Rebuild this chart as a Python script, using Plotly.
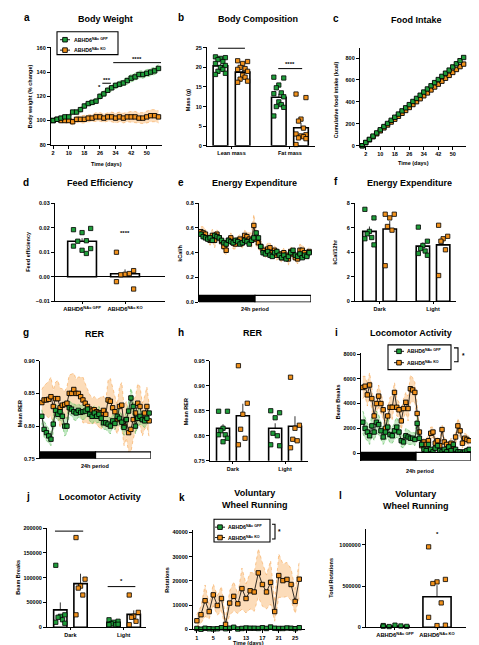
import plotly.graph_objects as go

W, H = 479, 645
FONT = "Liberation Sans"
GREEN = "#1f9e3a"
ORANGE = "#f2921c"
GREEN_FILL = "rgba(120,205,120,0.45)"
ORANGE_FILL = "rgba(250,185,115,0.5)"
GREEN_EDGE = "rgba(70,180,70,0.9)"
ORANGE_EDGE = "rgba(245,160,70,0.9)"
LBL_GFP = "ABHD6<sup>NAc GFP</sup>"
LBL_KO = "ABHD6<sup>NAc KO</sup>"

# ---------------- data ----------------
# a: body weight (% change)
bw_days = [2, 4, 6, 8, 10, 12, 14, 16, 18, 20, 22, 24, 26, 28, 30, 32, 34, 36, 38, 40, 42, 44, 46, 48, 50, 52, 54, 56]
bw_gfp = [100, 101, 102, 103, 103, 107, 107, 109, 112, 114, 115, 116, 120, 122, 125, 127, 129, 130, 131, 133, 135, 136, 138, 138, 139, 140, 141, 143]
bw_gfp_sem = [1, 1, 1, 1.5, 1.5, 1.5, 1.5, 2, 2, 2, 2, 2, 2.5, 2.5, 2.5, 2.5, 2.5, 2.5, 2.5, 3, 3, 3, 3, 3, 3, 3, 3, 3]
bw_ko = [100, 101, 100, 100, 100, 99, 101, 101, 101, 102, 102, 103, 103, 102, 103, 103, 102, 103, 102, 103, 103, 103, 102, 102, 103, 104, 104, 103]
bw_ko_sem = [1, 1.5, 2, 2, 2, 2.5, 2.5, 3, 3, 3, 3, 3.5, 3.5, 3.5, 3.5, 4, 4, 4, 4, 4, 4.5, 4.5, 4.5, 4.5, 5, 5, 5, 5]
bw_ticks = [2, 10, 18, 26, 34, 42, 50]

# b: body composition
bc_cats = ["Lean mass", "Fat mass"]
bc_gfp_mean = [20.4, 12.4]
bc_gfp_sem = [0.5, 0.9]
bc_ko_mean = [18.8, 4.6]
bc_ko_sem = [0.5, 1.2]
bc_gfp_pts = [[22.7, 22.5, 22.3, 22.0, 21.5, 21.0, 20.5, 20.0, 19.5, 19.0, 18.5, 18.2],
              [17.5, 17.3, 15.5, 14.8, 13.5, 13.3, 12.5, 11.2, 10.5, 10.0, 9.8, 7.6]]
bc_ko_pts = [[21.7, 21.5, 21.0, 20.0, 19.7, 19.5, 19.0, 18.0, 17.5, 17.0, 16.5, 16.2],
             [13.2, 12.3, 6.8, 6.3, 4.5, 3.0, 2.8, 2.5, 2.3, 2.0, 1.8, 0.3]]

# c: cumulative food intake
fi_days = [0, 2, 4, 6, 8, 10, 12, 14, 16, 18, 20, 22, 24, 26, 28, 30, 32, 34, 36, 38, 40, 42, 44, 46, 48, 50, 52, 54, 56]
fi_gfp = [0, 30, 58, 88, 117, 146, 175, 203, 232, 260, 289, 318, 346, 375, 404, 432, 461, 490, 518, 547, 576, 604, 633, 662, 690, 719, 748, 776, 805]
fi_ko = [0, 28, 54, 82, 109, 136, 163, 189, 216, 242, 269, 296, 322, 349, 376, 402, 429, 456, 482, 509, 536, 562, 589, 616, 642, 669, 696, 722, 745]

# d: feed efficiency
fe_cats = [LBL_GFP, LBL_KO]
fe_mean = [0.0145, 0.0012]
fe_sem = [0.0012, 0.0018]
fe_gfp_pts = [0.0192, 0.0197, 0.0180, 0.0145, 0.0147, 0.0125, 0.0115, 0.0108, 0.0095]
fe_ko_pts = [0.0100, 0.0025, 0.0010, 0.0008, 0.0013, -0.0020, -0.0050]

# e: energy expenditure over 24 h (30-min bins)
period_bins = list(range(48))
ee_gfp = [0.55, 0.53, 0.52, 0.51, 0.52, 0.50, 0.54, 0.53, 0.52, 0.50,
          0.48, 0.47, 0.50, 0.49, 0.48, 0.50, 0.49, 0.47, 0.48, 0.50,
          0.49, 0.47, 0.50, 0.52, 0.56, 0.52, 0.45, 0.40, 0.39, 0.41,
          0.38, 0.37, 0.40, 0.41, 0.38, 0.36, 0.38, 0.35, 0.37, 0.40,
          0.42, 0.38, 0.37, 0.39, 0.36, 0.38, 0.37, 0.40]
ee_gfp_sem = [0.02, 0.02, 0.02, 0.015, 0.02, 0.02, 0.025, 0.02, 0.02, 0.015,
              0.02, 0.02, 0.02, 0.015, 0.02, 0.02, 0.02, 0.015, 0.02, 0.02,
              0.02, 0.02, 0.02, 0.02, 0.025, 0.02, 0.02, 0.015, 0.015, 0.02,
              0.015, 0.015, 0.02, 0.02, 0.015, 0.015, 0.02, 0.015, 0.02, 0.02,
              0.02, 0.015, 0.015, 0.02, 0.015, 0.015, 0.02, 0.02]
ee_ko = [0.57, 0.56, 0.55, 0.52, 0.50, 0.54, 0.50, 0.55, 0.52, 0.49,
         0.45, 0.42, 0.50, 0.52, 0.48, 0.47, 0.50, 0.51, 0.48, 0.54,
         0.53, 0.51, 0.50, 0.62, 0.51, 0.48, 0.45, 0.42, 0.40, 0.43,
         0.44, 0.40, 0.42, 0.38, 0.39, 0.36, 0.40, 0.38, 0.35, 0.41,
         0.39, 0.36, 0.35, 0.42, 0.42, 0.40, 0.38, 0.41]
ee_ko_sem = [0.04, 0.05, 0.04, 0.03, 0.04, 0.05, 0.06, 0.04, 0.03, 0.04,
             0.05, 0.04, 0.03, 0.04, 0.05, 0.04, 0.03, 0.04, 0.05, 0.04,
             0.04, 0.05, 0.06, 0.09, 0.06, 0.05, 0.04, 0.04, 0.04, 0.05,
             0.04, 0.03, 0.04, 0.04, 0.03, 0.04, 0.04, 0.03, 0.05, 0.04,
             0.04, 0.03, 0.04, 0.05, 0.04, 0.04, 0.03, 0.04]

# f: energy expenditure per 12 h
phase_cats = ["Dark", "Light"]
ee12_gfp_mean = [5.7, 4.5]
ee12_gfp_sem = [0.4, 0.3]
ee12_ko_mean = [5.9, 4.6]
ee12_ko_sem = [0.65, 0.6]
ee12_gfp_pts = [[7.5, 6.8, 5.7, 5.5, 5.2, 5.1, 4.6], [6.05, 4.9, 4.55, 4.3, 4.1, 3.9, 3.75]]
ee12_ko_pts = [[7.1, 7.1, 6.8, 6.1, 5.8, 2.9], [6.2, 5.3, 5.1, 4.9, 4.2, 2.1]]

# g: RER over 24 h
rer_gfp = [0.815, 0.795, 0.790, 0.785, 0.780, 0.803, 0.824, 0.818, 0.822, 0.815,
           0.800, 0.800, 0.828, 0.826, 0.822, 0.820, 0.824, 0.821, 0.822, 0.823,
           0.826, 0.818, 0.815, 0.820, 0.815, 0.818, 0.812, 0.805, 0.805, 0.803,
           0.800, 0.808, 0.804, 0.815, 0.812, 0.806, 0.798, 0.810, 0.823, 0.843,
           0.830, 0.800, 0.812, 0.815, 0.810, 0.808, 0.812, 0.820]
rer_gfp_sem = [0.010, 0.012, 0.012, 0.012, 0.010, 0.012, 0.010, 0.010, 0.012, 0.012,
               0.015, 0.012, 0.010, 0.010, 0.012, 0.012, 0.010, 0.010, 0.012, 0.012,
               0.010, 0.010, 0.012, 0.012, 0.010, 0.012, 0.012, 0.010, 0.010, 0.012,
               0.012, 0.010, 0.010, 0.012, 0.012, 0.012, 0.012, 0.012, 0.014, 0.015,
               0.014, 0.012, 0.012, 0.012, 0.010, 0.010, 0.010, 0.010]
rer_ko = [0.836, 0.840, 0.840, 0.841, 0.845, 0.830, 0.842, 0.842, 0.828, 0.832,
          0.833, 0.835, 0.850, 0.850, 0.856, 0.850, 0.850, 0.845, 0.840, 0.835,
          0.830, 0.826, 0.823, 0.825, 0.822, 0.820, 0.820, 0.824, 0.818, 0.840,
          0.838, 0.828, 0.822, 0.810, 0.830, 0.832, 0.800, 0.810, 0.790, 0.795,
          0.810, 0.820, 0.835, 0.830, 0.810, 0.820, 0.830, 0.808]
rer_ko_sem = [0.020, 0.022, 0.025, 0.028, 0.030, 0.025, 0.025, 0.028, 0.030, 0.025,
              0.020, 0.025, 0.028, 0.030, 0.025, 0.022, 0.025, 0.030, 0.035, 0.030,
              0.025, 0.022, 0.020, 0.020, 0.020, 0.022, 0.025, 0.022, 0.020, 0.030,
              0.035, 0.030, 0.025, 0.022, 0.030, 0.035, 0.030, 0.028, 0.030, 0.035,
              0.030, 0.025, 0.030, 0.030, 0.025, 0.025, 0.030, 0.025]

# h: mean RER by phase
rer12_gfp_mean = [0.815, 0.815]
rer12_gfp_sem = [0.008, 0.010]
rer12_ko_mean = [0.840, 0.819]
rer12_ko_sem = [0.024, 0.020]
rer12_gfp_pts = [[0.849, 0.849, 0.815, 0.810, 0.802, 0.802, 0.795, 0.788], [0.850, 0.846, 0.836, 0.805, 0.800, 0.782, 0.780]]
rer12_ko_pts = [[0.940, 0.865, 0.843, 0.813, 0.795, 0.782], [0.917, 0.821, 0.815, 0.793, 0.790, 0.776]]

# i: locomotor activity over 24 h
loco_gfp = [2500, 2000, 1700, 1400, 2200, 1700, 2500, 2300, 1800, 1300,
            1700, 2100, 1500, 1400, 1800, 2100, 1700, 1000, 900, 1400,
            1300, 1200, 1200, 1100, 2400, 1200, 700, 300, 200, 700,
            300, 100, 400, 600, 200, 100, 300, 100, 500, 200,
            700, 300, 100, 100, 0, 100, 200, 300]
loco_gfp_sem = [900, 800, 700, 700, 800, 700, 900, 800, 700, 600,
                700, 800, 700, 600, 700, 800, 700, 500, 500, 600,
                600, 500, 500, 500, 700, 400, 300, 200, 150, 300,
                150, 100, 200, 300, 150, 100, 150, 100, 200, 150,
                300, 200, 100, 100, 50, 100, 150, 200]
loco_ko = [5300, 5400, 4700, 5500, 4400, 3000, 4000, 4600, 4000, 3500,
           2000, 3000, 3700, 3700, 4900, 3700, 3500, 2600, 3600, 4100,
           3600, 5200, 5100, 4900, 3200, 1700, 600, 900, 700, 1000,
           1600, 1700, 800, 1000, 600, 1900, 900, 700, 500, 800,
           400, 1300, 2200, 1800, 800, 1200, 1100, 1000]
loco_ko_sem = [900, 800, 900, 1000, 900, 700, 800, 900, 800, 700,
               600, 700, 800, 1000, 800, 700, 600, 700, 800, 800,
               1000, 1100, 1000, 800, 600, 400, 400, 300, 400, 500,
               500, 400, 400, 300, 500, 400, 300, 400, 300, 400,
               300, 600, 600, 500, 400, 400, 400, 400]

# j: locomotor activity by phase
lo12_gfp_mean = [35000, 10000]
lo12_gfp_sem = [15000, 2000]
lo12_ko_mean = [88000, 26000]
lo12_ko_sem = [20000, 8000]
lo12_gfp_pts = [[125000, 25000, 22000, 20000, 15000, 10000, 8000], [15000, 12000, 10000, 7000, 5000, 5000, 6000]]
lo12_ko_pts = [[181000, 97000, 83000, 79000, 65000, 25000], [65000, 30000, 22000, 20000, 12000, 5000]]

# k: voluntary wheel running
wr_days = list(range(1, 27))
wr_gfp = [300, 0, 400, 200, 100, 200, 600, 200, 400, 800, 100, 300, 500, 400, 400, 300, 600, 300, 900, 400, 300, 300, 500, 400, 200, 600]
wr_gfp_sem = [200, 100, 200, 150, 100, 150, 300, 150, 200, 300, 100, 200, 250, 200, 200, 200, 300, 200, 400, 200, 200, 200, 250, 200, 150, 300]
wr_ko = [3500, 6000, 11800, 7300, 14200, 9800, 12700, 2000, 10800, 13600, 10500, 16800, 12700, 15900, 15400, 23300, 18500, 15400, 19400, 7300, 22200, 20100, 20600, 18500, 11500, 20700]
wr_ko_sem = [2500, 3500, 6500, 3000, 4500, 4000, 5000, 2000, 5000, 6000, 4000, 8500, 6000, 7500, 8000, 10000, 9000, 7000, 9000, 4000, 9000, 7000, 7000, 6500, 5000, 7500]
wr_ticks = [1, 5, 9, 13, 17, 21, 25]

# l: total rotations
tr_cats = [LBL_GFP, LBL_KO]
tr_mean = [15000, 370000]
tr_sem = [3000, 140000]
tr_gfp_pts = [20000, 10000, 25000, 8000, 15000, 12000]
tr_ko_pts = [975000, 580000, 550000, 530000, 295000, 120000, 25000, 20000]

# ---------------- helpers ----------------
traces, shapes, annots = [], [], []
layout = {}


def px(x):
    return x / W


def py(y):
    return 1 - y / H


def tfont(size=5.5, bold=True, color="black"):
    return dict(family=FONT, size=size, color=color, weight="bold" if bold else "normal")


def set_axes(n, xpx, ypx, xr, yr, xkw=None, ykw=None):
    sfx = "" if n == 1 else str(n)
    base = dict(showline=True, linecolor="black", linewidth=1.3, ticks="outside", ticklen=3,
                tickwidth=1.1, tickcolor="black", showgrid=False, zeroline=False,
                tickfont=tfont(5.5), fixedrange=True, layer="above traces")
    xa = dict(base, domain=[px(xpx[0]), px(xpx[1])], range=xr, anchor="y" + sfx)
    ya = dict(base, domain=[py(ypx[1]), py(ypx[0])], range=yr, anchor="x" + sfx)
    xa.update(xkw or {})
    ya.update(ykw or {})
    layout["xaxis" + sfx] = xa
    layout["yaxis" + sfx] = ya
    return "x" + sfx, "y" + sfx


def text(x, y, s, size=5.5, bold=True, xanchor="center", angle=0):
    annots.append(dict(x=px(x), y=py(y), xref="paper", yref="paper", text=s, showarrow=False,
                       xanchor=xanchor, yanchor="middle", textangle=angle, font=tfont(size, bold)))


def atext(xa, ya, x, y, s, size=6):
    annots.append(dict(x=x, y=y, xref=xa, yref=ya, text=s, showarrow=False,
                       xanchor="center", yanchor="middle", font=tfont(size)))


def aline(xa, ya, x0, x1, y):
    shapes.append(dict(type="line", xref=xa, yref=ya, x0=x0, x1=x1, y0=y, y1=y,
                       line=dict(color="black", width=1)))


def band(xa, ya, x, y, sem, fill, edge):
    up = [v + e for v, e in zip(y, sem)]
    lo = [v - e for v, e in zip(y, sem)]
    traces.append(go.Scatter(x=x, y=up, mode="lines", line=dict(color=edge, width=0.6, dash="dot"),
                             xaxis=xa, yaxis=ya, showlegend=False, hoverinfo="skip"))
    traces.append(go.Scatter(x=x, y=lo, mode="lines", line=dict(color=edge, width=0.6, dash="dot"),
                             fill="tonexty", fillcolor=fill,
                             xaxis=xa, yaxis=ya, showlegend=False, hoverinfo="skip"))


def series(xa, ya, x, y, color, size=4.4):
    traces.append(go.Scatter(x=x, y=y, mode="lines+markers", line=dict(color="black", width=0.8),
                             marker=dict(symbol="square", size=size, color=color,
                                         line=dict(color="black", width=0.9)),
                             cliponaxis=False, xaxis=xa, yaxis=ya, showlegend=False))


PATTERN = [-1, 1, 0, -0.5, 0.5, -1, 1, 0, 0.5, -0.5, 1, -1]


def bar_pts(xa, ya, xpos, mean, sem, pts, color, width, spread):
    traces.append(go.Bar(x=[xpos], y=[mean], width=width,
                         marker=dict(color="white", line=dict(color="black", width=1.6)),
                         error_y=dict(type="data", array=[sem], arrayminus=[0], color="black",
                                      thickness=0.8, width=0),
                         xaxis=xa, yaxis=ya, showlegend=False))
    offs = [spread * PATTERN[i % len(PATTERN)] for i in range(len(pts))]
    traces.append(go.Scatter(x=[xpos + o for o in offs], y=pts, mode="markers",
                             marker=dict(symbol="square", size=4.3, color=color,
                                         line=dict(color="black", width=0.8)),
                             cliponaxis=False, xaxis=xa, yaxis=ya, showlegend=False))


def grouped_bars(xa, ya, cats, gm, gs, gp, km, ks, kp):
    for i, _ in enumerate(cats):
        bar_pts(xa, ya, i - 0.19, gm[i], gs[i], gp[i], GREEN, 0.25, 0.085)
        bar_pts(xa, ya, i + 0.19, km[i], ks[i], kp[i], ORANGE, 0.25, 0.085)


def period_bar(xa, ya, xr, y0, y1):
    mid = (period_bins[23] + period_bins[24]) / 2
    shapes.append(dict(type="rect", xref=xa, yref=ya, x0=xr[0], x1=mid, y0=y0, y1=y1,
                       fillcolor="black", line=dict(color="black", width=1.3)))
    shapes.append(dict(type="rect", xref=xa, yref=ya, x0=mid, x1=xr[1], y0=y0, y1=y1,
                       fillcolor="white", line=dict(color="black", width=1.3)))


def legend_box(x0, y0, x1, y1, mx, tx, rows):
    shapes.append(dict(type="rect", xref="paper", yref="paper", x0=px(x0), x1=px(x1), y0=py(y1), y1=py(y0),
                       line=dict(color="black", width=1.1), fillcolor="white"))
    for yy, color, lab in rows:
        shapes.append(dict(type="line", xref="paper", yref="paper", x0=px(mx - 5), x1=px(mx + 5),
                           y0=py(yy), y1=py(yy), line=dict(color="black", width=0.9)))
        shapes.append(dict(type="rect", xref="paper", yref="paper", x0=px(mx - 2.3), x1=px(mx + 2.3),
                           y0=py(yy + 2.3), y1=py(yy - 2.3), fillcolor=color,
                           line=dict(color="black", width=0.9)))
        text(tx, yy, lab, size=5.2, xanchor="left")


def bracket(x, y0, y1, w):
    shapes.append(dict(type="path", xref="paper", yref="paper",
                       path=f"M {px(x - w)},{py(y0)} L {px(x)},{py(y0)} L {px(x)},{py(y1)} L {px(x - w)},{py(y1)}",
                       line=dict(color="black", width=1.1)))


cat_x = dict(tickvals=[0, 1], ticklen=2)

# ---------------- a ----------------
xa, ya = set_axes(1, (43, 154), (36, 135), [0.9, 57.8], [80, 161],
                  dict(tickvals=bw_ticks), dict(tickvals=[80, 100, 120, 140, 160]))
band(xa, ya, bw_days, bw_ko, bw_ko_sem, ORANGE_FILL, ORANGE_EDGE)
band(xa, ya, bw_days, bw_gfp, bw_gfp_sem, GREEN_FILL, GREEN_EDGE)
series(xa, ya, bw_days, bw_ko, ORANGE)
series(xa, ya, bw_days, bw_gfp, GREEN)
atext(xa, ya, 25.6, 127.5, "*")
aline(xa, ya, 27.2, 31.6, 130.8)
atext(xa, ya, 29.4, 133.5, "***")
aline(xa, ya, 32.8, 57.3, 147.8)
atext(xa, ya, 45, 150.5, "****")
legend_box(49, 21, 110, 44, 57, 64, [(29, GREEN, LBL_GFP), (39.5, ORANGE, LBL_KO)])

# ---------------- b ----------------
xa, ya = set_axes(2, (199, 307), (36, 136), [-0.42, 1.43], [0, 25.3],
                  dict(cat_x, ticktext=bc_cats), dict(tickvals=[0, 5, 10, 15, 20, 25]))
grouped_bars(xa, ya, bc_cats, bc_gfp_mean, bc_gfp_sem, bc_gfp_pts, bc_ko_mean, bc_ko_sem, bc_ko_pts)
aline(xa, ya, -0.23, 0.23, 24.9)
atext(xa, ya, 0, 26.2, "*")
aline(xa, ya, 0.8, 1.21, 19.7)
atext(xa, ya, 1.0, 20.9, "****")

# ---------------- c ----------------
xa, ya = set_axes(3, (352, 458), (37, 136), [-1.2, 57.3], [0, 895],
                  dict(tickvals=bw_ticks), dict(tickvals=[0, 200, 400, 600, 800]))
series(xa, ya, fi_days, fi_ko, ORANGE)
series(xa, ya, fi_days, fi_gfp, GREEN)

# ---------------- d ----------------
xa, ya = set_axes(4, (47, 157), (194, 293), [-0.63, 1.93], [-0.01, 0.03],
                  dict(cat_x, ticktext=fe_cats, tickfont=tfont(5.8)),
                  dict(tickvals=[-0.01, 0, 0.01, 0.02, 0.03], tickformat=".2f",
                       zeroline=True, zerolinecolor="black", zerolinewidth=1.3))
bar_pts(xa, ya, 0, fe_mean[0], fe_sem[0], fe_gfp_pts, GREEN, 0.67, 0.2)
bar_pts(xa, ya, 1, fe_mean[1], fe_sem[1], fe_ko_pts, ORANGE, 0.67, 0.2)
atext(xa, ya, 1, 0.018, "****")

# ---------------- e ----------------
er = [-0.8, 47.8]
xa, ya = set_axes(5, (191, 303), (194, 294), er, [0, 0.8],
                  dict(showline=False, ticks="", showticklabels=False),
                  dict(tickvals=[0, 0.2, 0.4, 0.6, 0.8], tickformat=".1f"))
band(xa, ya, period_bins, ee_ko, ee_ko_sem, ORANGE_FILL, ORANGE_EDGE)
band(xa, ya, period_bins, ee_gfp, ee_gfp_sem, GREEN_FILL, GREEN_EDGE)
series(xa, ya, period_bins, ee_ko, ORANGE)
series(xa, ya, period_bins, ee_gfp, GREEN)
period_bar(xa, ya, er, 0, 0.055)

# ---------------- f ----------------
xa, ya = set_axes(6, (347, 448), (194, 293), [-0.46, 1.43], [0, 8],
                  dict(cat_x, ticktext=phase_cats), dict(tickvals=[0, 2, 4, 6, 8]))
grouped_bars(xa, ya, phase_cats, ee12_gfp_mean, ee12_gfp_sem, ee12_gfp_pts, ee12_ko_mean, ee12_ko_sem, ee12_ko_pts)

# ---------------- g ----------------
xa, ya = set_axes(7, (32, 143), (353, 452), er, [0.75, 0.90],
                  dict(showline=False, ticks="", showticklabels=False),
                  dict(tickvals=[0.75, 0.80, 0.85, 0.90], tickformat=".2f"))
band(xa, ya, period_bins, rer_ko, rer_ko_sem, ORANGE_FILL, ORANGE_EDGE)
band(xa, ya, period_bins, rer_gfp, rer_gfp_sem, GREEN_FILL, GREEN_EDGE)
series(xa, ya, period_bins, rer_ko, ORANGE)
series(xa, ya, period_bins, rer_gfp, GREEN)
period_bar(xa, ya, er, 0.75, 0.7605)

# ---------------- h ----------------
xa, ya = set_axes(8, (202, 300), (353, 454), [-0.44, 1.44], [0.75, 0.95],
                  dict(cat_x, ticktext=phase_cats),
                  dict(tickvals=[0.75, 0.80, 0.85, 0.90, 0.95], tickformat=".2f"))
grouped_bars(xa, ya, phase_cats, rer12_gfp_mean, rer12_gfp_sem, rer12_gfp_pts, rer12_ko_mean, rer12_ko_sem, rer12_ko_pts)

# ---------------- i ----------------
xa, ya = set_axes(9, (353, 463), (345, 454), er, [-620, 8100],
                  dict(showline=False, ticks="", showticklabels=False),
                  dict(tickvals=[0, 2000, 4000, 6000, 8000]))
band(xa, ya, period_bins, loco_ko, loco_ko_sem, ORANGE_FILL, ORANGE_EDGE)
band(xa, ya, period_bins, loco_gfp, loco_gfp_sem, GREEN_FILL, GREEN_EDGE)
series(xa, ya, period_bins, loco_ko, ORANGE)
series(xa, ya, period_bins, loco_gfp, GREEN)
period_bar(xa, ya, er, -620, 60)
legend_box(380, 337, 443, 362, 391, 397, [(343.5, GREEN, LBL_GFP), (355, ORANGE, LBL_KO)])
bracket(450, 340, 354, 4)
text(455, 348, "*", size=6.5)

# ---------------- j ----------------
xa, ya = set_axes(10, (39, 138), (522, 622), [-0.44, 1.42], [0, 200000],
                  dict(cat_x, ticktext=phase_cats),
                  dict(tickvals=[0, 50000, 100000, 150000, 200000], tickformat="d"))
grouped_bars(xa, ya, phase_cats, lo12_gfp_mean, lo12_gfp_sem, lo12_gfp_pts, lo12_ko_mean, lo12_ko_sem, lo12_ko_pts)
aline(xa, ya, -0.29, 0.24, 194000)
atext(xa, ya, -0.03, 206000, "p=0.061", size=5.3)
aline(xa, ya, 0.70, 1.22, 82000)
atext(xa, ya, 0.96, 93000, "*")

# ---------------- k ----------------
xa, ya = set_axes(11, (185, 297), (524, 624), [0.05, 27.4], [0, 41000],
                  dict(tickvals=wr_ticks),
                  dict(tickvals=[0, 10000, 20000, 30000, 40000], tickformat="d"))
band(xa, ya, wr_days, wr_ko, wr_ko_sem, ORANGE_FILL, ORANGE_EDGE)
band(xa, ya, wr_days, wr_gfp, wr_gfp_sem, GREEN_FILL, GREEN_EDGE)
series(xa, ya, wr_days, wr_ko, ORANGE)
series(xa, ya, wr_days, wr_gfp, GREEN)
legend_box(206, 513, 262, 536, 212, 218, [(521, GREEN, LBL_GFP), (531.5, ORANGE, LBL_KO)])
bracket(267, 518, 533, 3)
text(271, 525, "*", size=6.5)

# ---------------- l ----------------
xa, ya = set_axes(12, (358, 458), (523, 622), [-0.69, 1.69], [0, 1190000],
                  dict(cat_x, ticktext=tr_cats, tickfont=tfont(5.8)),
                  dict(tickvals=[0, 500000, 1000000], tickformat="d"))
bar_pts(xa, ya, 0, tr_mean[0], tr_sem[0], tr_gfp_pts, GREEN, 0.67, 0.28)
bar_pts(xa, ya, 1, tr_mean[1], tr_sem[1], tr_ko_pts, ORANGE, 0.67, 0.2)
atext(xa, ya, 1, 1130000, "*")

# ---------------- titles, letters, axis titles ----------------
for x, y, s in [(97, 8, "Body Weight"), (250, 8, "Body Composition"), (408, 9, "Food Intake"),
                (92, 174, "Feed Efficiency"), (246, 174, "Energy Expenditure"), (401, 174, "Energy Expenditure"),
                (87, 326, "RER"), (245, 325, "RER"), (403, 325, "Locomotor Activity"),
                (92, 491, "Locomotor Activity"), (247, 493, "Voluntary<br>Wheel Running"),
                (408, 494, "Voluntary<br>Wheel Running")]:
    text(x, y, s, size=9)
for x, y, s in [(19, 7, "a"), (173, 7, "b"), (328, 8, "c"), (18, 173, "d"), (173, 173, "e"),
                (328, 172, "f"), (18, 325, "g"), (173, 325, "h"), (328, 325, "i"),
                (20, 490, "j"), (174, 491, "k"), (332, 489, "l")]:
    text(x, y, s, size=10)
for x, y, s in [(22, 86, "Body weight (% change)"), (180, 90, "Mass (g)"),
                (328, 90, "Cumulative food intake (kcal)"), (20, 243, "Feed efficiency"),
                (172, 245, "kCal/h"), (327, 243, "kCal/12hr"), (12, 407, "Mean RER"),
                (178, 405, "Mean RER"), (330, 395, "Beam Breaks"), (10, 572, "Beam Breaks"),
                (159, 575, "Rotations"), (323, 572, "Total Rotations")]:
    text(x, y, s, size=5.5, angle=-90)
for x, y, s in [(98, 154, "Time (days)"), (405, 153, "Time (days)"), (247, 301, "24h period"),
                (87, 459, "24h period"), (412, 464, "24h period"), (240, 637.5, "Time (days)")]:
    text(x, y, s, size=5.5)

layout.update(width=W, height=H, margin=dict(l=0, r=0, t=0, b=0), autosize=False,
              paper_bgcolor="white", plot_bgcolor="white", barmode="overlay", showlegend=False,
              font=dict(family=FONT, color="black"), shapes=shapes, annotations=annots)

fig = go.Figure(data=traces, layout=layout)
fig.write_html("out.html")
